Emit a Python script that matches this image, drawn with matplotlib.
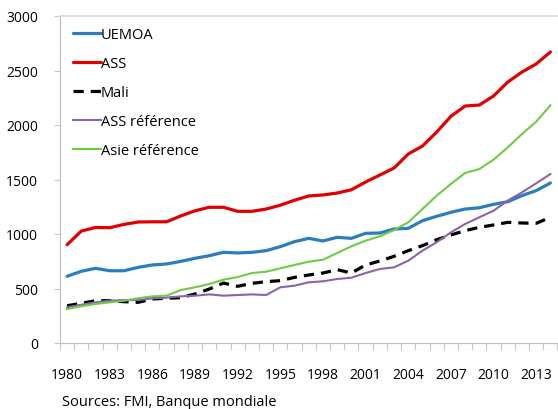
import matplotlib
matplotlib.use("Agg")
import matplotlib.pyplot as plt
import numpy as np

years = list(range(1980, 2015))
uemoa = [612, 658, 685, 663, 663, 694, 716, 725, 749, 777, 801, 832, 826, 832, 847, 884, 930, 960, 936, 970, 960, 1006, 1009, 1046, 1052, 1122, 1162, 1199, 1229, 1241, 1272, 1296, 1352, 1398, 1468]
ass = [902, 1027, 1060, 1058, 1088, 1110, 1112, 1112, 1166, 1213, 1245, 1245, 1208, 1208, 1229, 1264, 1310, 1349, 1358, 1376, 1406, 1477, 1541, 1605, 1734, 1807, 1935, 2080, 2174, 2183, 2266, 2394, 2486, 2560, 2670]
mali = [342, 364, 388, 388, 379, 373, 404, 410, 416, 450, 495, 550, 520, 547, 563, 572, 602, 624, 642, 673, 642, 716, 752, 795, 847, 893, 948, 991, 1031, 1061, 1083, 1107, 1101, 1098, 1153]
ass_ref = [327, 351, 373, 388, 394, 394, 410, 416, 428, 434, 446, 434, 440, 446, 440, 511, 526, 557, 566, 587, 599, 642, 679, 694, 755, 847, 924, 1015, 1092, 1153, 1214, 1306, 1382, 1465, 1550]
asie_ref = [312, 337, 358, 373, 388, 410, 428, 434, 486, 511, 541, 581, 605, 642, 654, 685, 716, 746, 764, 826, 887, 939, 979, 1036, 1107, 1229, 1352, 1459, 1560, 1596, 1682, 1795, 1917, 2030, 2180]

series_names = ["UEMOA", "ASS", "Mali", "ASS référence", "Asie référence"]
x_labels = [str(y) for y in range(1980, 2015, 3)]

plt.rcParams['font.family'] = ['Open Sans', 'DejaVu Sans']

fig = plt.figure(figsize=(5.58, 4.10), dpi=100)
ax = fig.add_axes([60/558, (410-344)/410, (557.5-60)/558, (344-17)/410])

ax.plot(years, uemoa, color='#2A7DBF', lw=2.3, label=series_names[0], solid_capstyle='round')
ax.plot(years, ass, color='#E00000', lw=2.3, label=series_names[1], solid_capstyle='round')
ax.plot(years, mali, color='black', lw=2.3, ls=(0, (3.2, 2.2)), label=series_names[2])
ax.plot(years, ass_ref, color='#8B62AD', lw=1.5, label=series_names[3])
ax.plot(years, asie_ref, color='#6DCC44', lw=1.5, label=series_names[4])

ax.set_xlim(1979.5, 2014.5)
ax.set_ylim(0, 3000)
ax.set_yticks(range(0, 3001, 500))
ax.set_xticks(range(1980, 2015, 3))
ax.set_xticklabels(x_labels)
ax.set_xticks(np.arange(1979.5, 2015, 1), minor=True)
ax.tick_params(axis='x', which='major', length=0, pad=17, labelsize=10, labelcolor='black')
ax.tick_params(axis='x', which='minor', length=5, width=0.8, color='#c8c8c8', direction='out')
ax.tick_params(axis='y', which='major', length=4, width=0.8, color='#c8c8c8', pad=12, labelsize=10)

for s in ['left', 'bottom']:
    ax.spines[s].set_color('#c0c0c0')
    ax.spines[s].set_linewidth(0.9)
ax.spines['top'].set_color('#d9d9d9')
ax.spines['top'].set_linewidth(1.2)
ax.spines['right'].set_visible(False)

leg = ax.legend(loc='upper left', bbox_to_anchor=(0.006, 0.998), frameon=False,
                fontsize=10.5, handlelength=1.9, handletextpad=0.0,
                labelspacing=0.97, borderaxespad=0.3)

fig.text(62/558, 1 - 403/410, "Sources: FMI, Banque mondiale", fontsize=10.5,
         va='center', ha='left')

fig.savefig("out.png", dpi=100)
